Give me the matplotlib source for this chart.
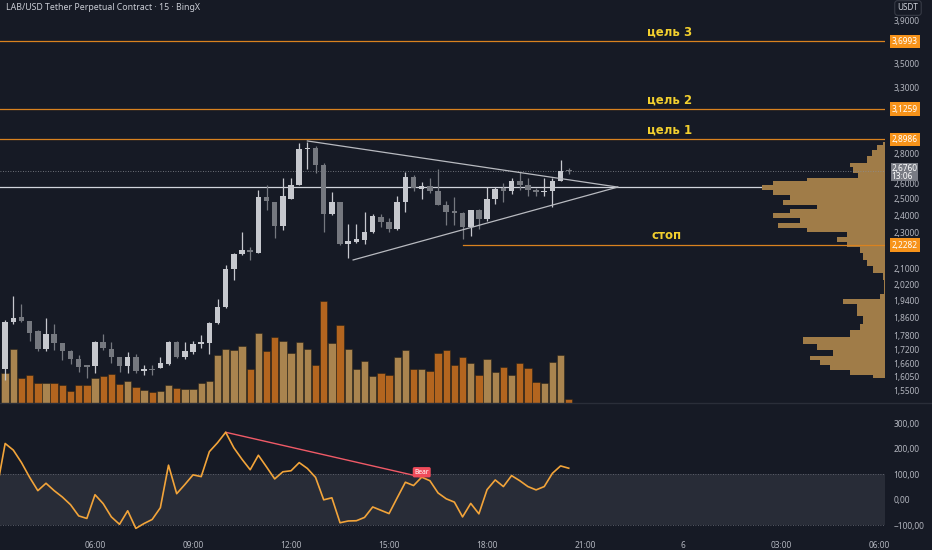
import numpy as np
import matplotlib
matplotlib.use("Agg")
import matplotlib.pyplot as plt
from matplotlib.lines import Line2D
from matplotlib.ticker import FixedLocator, FuncFormatter, NullLocator

plt.rcParams['font.family'] = ['Noto Sans', 'DejaVu Sans']

BG = '#161a25'
TXT = '#b2b5be'
UP = '#c6c8ce'
DOWN = '#75787f'
VOL_UP = '#a9844f'
VOL_DOWN = '#b3651f'
ORANGE = '#d9821f'
YELLOW = '#f2cf2e'

##############
# chart data #
##############

# 15 minute candles, first one at 03:15
opens = [1.636, 1.838, 1.861, 1.843, 1.799, 1.720, 1.786, 1.746, 1.712, 1.678,
         1.653, 1.650, 1.751, 1.720, 1.686, 1.650, 1.686, 1.629, 1.637, 1.641,
         1.657, 1.751, 1.686, 1.708, 1.742, 1.746, 1.834, 1.910, 2.100, 2.180,
         2.200, 2.185, 2.510, 2.480, 2.336, 2.500, 2.590, 2.830, 2.840, 2.720,
         2.405, 2.478, 2.234, 2.245, 2.256, 2.300, 2.390, 2.360, 2.320, 2.480,
         2.640, 2.560, 2.580, 2.550, 2.460, 2.420, 2.415, 2.330, 2.430, 2.380,
         2.500, 2.565, 2.550, 2.610, 2.585, 2.555, 2.540, 2.550, 2.615, 2.680]
highs = [1.850, 1.964, 1.925, 1.845, 1.802, 1.858, 1.830, 1.748, 1.714, 1.695,
         1.655, 1.753, 1.786, 1.751, 1.688, 1.708, 1.700, 1.653, 1.653, 1.686,
         1.753, 1.755, 1.751, 1.755, 1.782, 1.838, 1.950, 2.120, 2.185, 2.300,
         2.220, 2.555, 2.590, 2.482, 2.633, 2.633, 2.874, 2.880, 2.850, 2.733,
         2.540, 2.480, 2.350, 2.350, 2.420, 2.410, 2.410, 2.383, 2.520, 2.673,
         2.650, 2.607, 2.633, 2.690, 2.485, 2.510, 2.420, 2.430, 2.440, 2.575,
         2.575, 2.600, 2.635, 2.673, 2.630, 2.565, 2.630, 2.633, 2.753, 2.700]
lows = [1.593, 1.830, 1.840, 1.755, 1.712, 1.712, 1.716, 1.674, 1.657, 1.625,
        1.600, 1.620, 1.716, 1.660, 1.625, 1.620, 1.620, 1.612, 1.612, 1.640,
        1.653, 1.684, 1.678, 1.700, 1.725, 1.700, 1.832, 1.905, 2.043, 2.176,
        2.147, 2.183, 2.431, 2.267, 2.313, 2.498, 2.588, 2.690, 2.666, 2.300,
        2.400, 2.230, 2.158, 2.240, 2.234, 2.298, 2.330, 2.300, 2.313, 2.420,
        2.550, 2.500, 2.535, 2.460, 2.340, 2.340, 2.260, 2.280, 2.320, 2.365,
        2.470, 2.480, 2.530, 2.555, 2.520, 2.520, 2.520, 2.450, 2.610, 2.660]
closes = [1.841, 1.858, 1.843, 1.790, 1.720, 1.786, 1.746, 1.712, 1.678, 1.645,
          1.645, 1.751, 1.725, 1.686, 1.650, 1.686, 1.629, 1.637, 1.633, 1.662,
          1.751, 1.686, 1.712, 1.742, 1.750, 1.834, 1.910, 2.100, 2.180, 2.200,
          2.190, 2.510, 2.485, 2.336, 2.520, 2.590, 2.830, 2.835, 2.720, 2.405,
          2.478, 2.234, 2.250, 2.260, 2.300, 2.395, 2.360, 2.320, 2.480, 2.640,
          2.568, 2.580, 2.550, 2.460, 2.420, 2.415, 2.330, 2.430, 2.380, 2.500,
          2.560, 2.550, 2.610, 2.585, 2.555, 2.540, 2.552, 2.615, 2.676, 2.676]
# volume, thousands
volumes = [300, 540, 250, 280, 200, 200, 200, 180, 120, 180,
           180, 250, 270, 290, 190, 220, 160, 130, 110, 120,
           180, 150, 140, 140, 200, 220, 480, 540, 530, 570,
           340, 700, 520, 660, 620, 500, 610, 540, 380, 1020,
           600, 780, 540, 340, 420, 270, 300, 280, 460, 530,
           340, 340, 320, 500, 530, 380, 460, 400, 280, 440,
           310, 360, 280, 400, 350, 210, 200, 410, 480, 40]

# oscillator (CCI style), first value at 03:00
osc = [44, 220, 194, 145, 87, 35, 64, 35, 10, -20, -64,
       -74, 19, -16, -68, -97, -44, -113, -94, -78, -32,
       135, 23, 59, 97, 90, 188, 223, 264, 203, 158,
       117, 174, 128, 81, 109, 113, 145, 122, 87, -1,
       7, -91, -84, -83, -70, -29, -42, -55, 7, 68,
       55, 88, 74, 26, 3, -10, -68, -15, -56, 39,
       77, 51, 94, 74, 51, 38, 51, 103, 132, 123]

# visible range volume profile
vp_price = [2.879, 2.844, 2.802, 2.753, 2.719, 2.686, 2.652, 2.620, 2.600, 2.574,
            2.542, 2.511, 2.480, 2.449, 2.431, 2.401, 2.371, 2.342, 2.313, 2.285,
            2.256, 2.229, 2.201, 2.163, 2.131, 2.094, 2.058, 2.028, 1.992, 1.958,
            1.934, 1.910, 1.882, 1.849, 1.817, 1.790, 1.751, 1.729, 1.703, 1.682,
            1.662, 1.641, 1.621, 1.601]
vp_volume = [2, 8, 13, 18, 35, 32, 27, 78, 112, 123,
             112, 95, 102, 68, 95, 112, 85, 107, 78, 38,
             48, 38, 25, 22, 18, 12, 2, 1, 1, 5,
             42, 28, 28, 22, 25, 35, 82, 68, 52, 75,
             65, 55, 35, 12]

targets = [3.6993, 3.1259, 2.8986]
target_names = ['цель 3', 'цель 2', 'цель 1']
stop = 2.2282
stop_from = 17.25          # 17:15
level = 2.574              # white horizontal level
last_price = 2.676
tri_upper = ([12.5, 22.0], [2.887, 2.574])
tri_lower = ([13.9, 22.0], [2.147, 2.574])
div_idx = (28, 52)         # oscillator pivots of the bear divergence

# ticks hidden by the price boxes are left out
price_ticks = [3.9, 3.5, 3.3, 2.8, 2.6, 2.5, 2.4, 2.3,
               2.1, 2.02, 1.94, 1.86, 1.78, 1.72, 1.66, 1.605, 1.55]
osc_ticks = [300, 200, 100, 0, -100]
time_ticks = [6, 9, 12, 15, 18, 21, 24, 27, 30]
time_labels = ['06:00', '09:00', '12:00', '15:00', '18:00', '21:00', '6', '03:00', '06:00']

opens = np.array(opens)
closes = np.array(closes)
n = len(opens)
t = 3.25 + 0.25 * np.arange(n)
t_osc = 3.0 + 0.25 * np.arange(len(osc))

##########
# layout #
##########
W, H = 932, 550
fig = plt.figure(figsize=(W / 100, H / 100), dpi=100, facecolor=BG)
ax = fig.add_axes([0, 1 - 403 / H, 885 / W, 403 / H])
osc_ax = fig.add_axes([0, 15 / H, 885 / W, 130 / H], sharex=ax)

ax.set_yscale('log')
ax.set_ylim(1.504, 4.10)
ax.set_xlim(3.092, 30.18)

vol_ax = ax.twinx()
vp_ax = ax.twiny()
vol_ax.set_zorder(1)
vp_ax.set_zorder(2)
ax.set_zorder(3)
for a in (ax, vol_ax, vp_ax, osc_ax):
    a.patch.set_visible(False)
    for s in a.spines.values():
        s.set_visible(False)

# volume
up = closes >= opens
vol_ax.bar(t, volumes, width=0.225, color=np.where(up, VOL_UP, VOL_DOWN),
           edgecolor='#2b2418', linewidth=0.4)
vol_ax.set_ylim(0, 4030)
vol_ax.set_yticks([])

# volume profile + level line under it
vp_ax.axhline(level, color='#d1d4dc', lw=0.9, zorder=1)
order = np.argsort(vp_price)
vp_ax.fill_betweenx(np.array(vp_price)[order], 0, np.array(vp_volume)[order],
                    step='mid', color='#a07c48', lw=0, zorder=2)
vp_ax.set_xlim(885, 0)
vp_ax.set_xticks([])

# candles
col = np.where(up, UP, DOWN)
ax.vlines(t, lows, highs, colors=col, lw=0.9, zorder=4)
body_lo = np.minimum(opens, closes)
body_h = np.maximum(np.abs(closes - opens), body_lo * 0.003)
ax.bar(t, body_h, bottom=body_lo, width=0.17, color=col, lw=0, zorder=5)

# levels
ax.axhline(last_price, color='#8a8d95', lw=0.6, ls=(0, (1, 2)), zorder=2)
for p, name in zip(targets, target_names):
    ax.axhline(p, color=ORANGE, lw=0.9, zorder=3)
    ax.annotate(name, xy=(23.6, p), xytext=(0, 2), textcoords='offset points',
                ha='center', va='bottom', color=YELLOW, fontsize=8.5,
                fontweight='bold', family='DejaVu Sans')
ax.plot([stop_from, 31], [stop, stop], color=ORANGE, lw=0.9, zorder=3)
ax.annotate('стоп', xy=(23.5, stop), xytext=(0, 2), textcoords='offset points',
            ha='center', va='bottom', color=YELLOW, fontsize=8.5,
            fontweight='bold', family='DejaVu Sans')

ax.plot(*tri_upper, color='#b8bac0', lw=0.9, zorder=6)
ax.plot(*tri_lower, color='#b8bac0', lw=0.9, zorder=6)

# price axis
ax.yaxis.tick_right()
ax.yaxis.set_major_locator(FixedLocator(price_ticks))
ax.yaxis.set_minor_locator(NullLocator())
ax.yaxis.set_major_formatter(FuncFormatter(lambda v, _: f'{v:.4f}'.replace('.', ',')))
ax.tick_params(axis='y', length=0, pad=6, labelsize=6, labelcolor=TXT)
ax.tick_params(axis='x', bottom=False, labelbottom=False)

ytr = ax.get_yaxis_transform()
for p in targets + [stop]:
    ax.text(1.0075, p, f'{p:.4f}'.replace('.', ','), transform=ytr, va='center', ha='left',
            fontsize=6, color='white', zorder=10,
            bbox=dict(boxstyle='square,pad=0.25', fc='#f7931a', ec='none'))
ax.annotate(f'{last_price:.4f}'.replace('.', ',') + '\n13:06', xy=(1.0075, last_price),
            xycoords=ytr, xytext=(0, -0.6), textcoords='offset points', va='center',
            ha='left', fontsize=6, color='white', linespacing=0.8, zorder=10,
            bbox=dict(boxstyle='square,pad=0.1', fc='#787b84', ec='none'))

# oscillator
osc_ax.set_ylim(-139, 371)
osc_ax.axhspan(-100, 100, color='#282c37', lw=0, zorder=0)
for v in (100, -100):
    osc_ax.axhline(v, color='#6a6d78', lw=0.6, ls=(0, (1, 2)), zorder=1)
osc_ax.plot(t_osc, osc, color='#f2a43a', lw=1.2, zorder=3)
a, b = div_idx
osc_ax.plot([t_osc[a], t_osc[b]], [osc[a], osc[b]], color='#f05a67', lw=1.0, zorder=2)
osc_ax.annotate('Bear', xy=(t_osc[b], osc[b]), xytext=(0, 1), textcoords='offset points',
                ha='center', va='bottom', fontsize=4.8, color='white', zorder=5,
                bbox=dict(boxstyle='round,pad=0.25', fc='#f04b5a', ec='none'))
osc_ax.yaxis.tick_right()
osc_ax.yaxis.set_major_locator(FixedLocator(osc_ticks))
osc_ax.yaxis.set_major_formatter(
    FuncFormatter(lambda v, _: f'{v:.2f}'.replace('.', ',').replace('-', '\u2212')))
osc_ax.tick_params(axis='y', length=0, pad=6, labelsize=6, labelcolor=TXT)
osc_ax.xaxis.set_major_locator(FixedLocator(time_ticks))
osc_ax.xaxis.set_major_formatter(FuncFormatter(
    lambda v, pos: time_labels[time_ticks.index(round(v))] if round(v) in time_ticks else ''))
osc_ax.tick_params(axis='x', length=0, pad=4, labelsize=6, labelcolor=TXT)

# chrome
fig.add_artist(Line2D([0, 1], [1 - 403 / H] * 2, color='#2a2e39', lw=1.0))
fig.text(6 / W, 1 - 8 / H, 'LAB/USD Tether Perpetual Contract \u00b7 15 \u00b7 BingX',
         fontsize=6.3, color='#c9ccd4', va='center', ha='left')
fig.text(908 / W, 1 - 8 / H, 'USDT', fontsize=5.8, color='#d1d4dc', va='center', ha='center',
         bbox=dict(boxstyle='round,pad=0.35', fc=BG, ec='#363a45', lw=0.8))

fig.savefig('out.png', dpi=100, facecolor=BG)
